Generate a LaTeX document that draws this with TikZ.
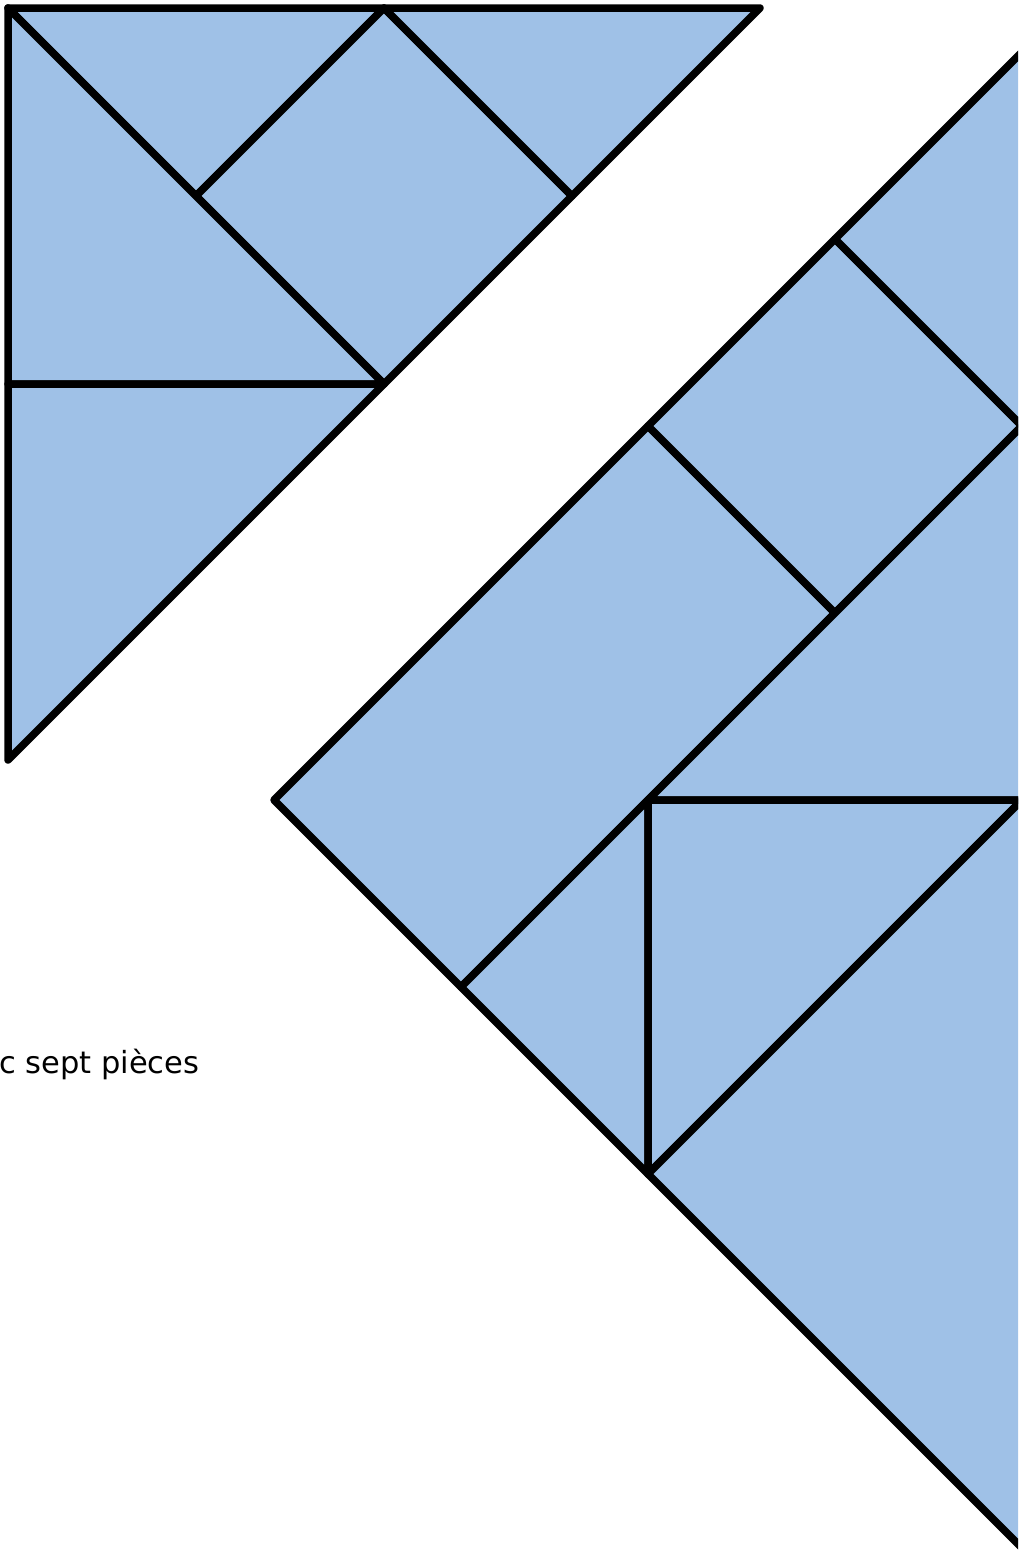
\documentclass[tikz,border=0pt]{standalone}
\usepackage{fontspec}
\setmainfont{DejaVu Sans}
\definecolor{tanblue}{RGB}{159,193,231}
\begin{document}
\begin{tikzpicture}[x=1pt,y=-1pt,
  piece/.style={fill=tanblue,draw=black,line width=7.5pt,line join=round,line cap=round}]
\useasboundingbox (0,0) rectangle (1018,1558);
\begin{scope}
\clip (0,0) rectangle (1018,1558);
% left figure
\coordinate (A) at (8,8);
\coordinate (B) at (384,8);
\coordinate (C) at (760,8);
\coordinate (D) at (384,384);
\coordinate (E) at (8,384);
\coordinate (F) at (8,760);
\coordinate (G) at (196,196);
\coordinate (H) at (572,196);
\filldraw[piece] (A) -- (B) -- (G) -- cycle;
\filldraw[piece] (B) -- (H) -- (D) -- (G) -- cycle;
\filldraw[piece] (B) -- (C) -- (H) -- cycle;
\filldraw[piece] (A) -- (D) -- (E) -- cycle;
\filldraw[piece] (E) -- (D) -- (F) -- cycle;
% right figure (u = 187)
\coordinate (L)   at (274,800);
\coordinate (P2a) at (648,426);
\coordinate (P3a) at (835,239);
\coordinate (P4a) at (1022,52);
\coordinate (P4ab) at (1209,239);
\coordinate (P3ab) at (1022,426);
\coordinate (P2ab) at (835,613);
\coordinate (Pab) at (648,800);
\coordinate (Pb)  at (461,987);
\coordinate (P2b) at (648,1174);
\coordinate (P2a2b) at (1022,800);
\coordinate (P4b) at (1022,1548);
\filldraw[piece] (L) -- (P2a) -- (P2ab) -- (Pab) -- (Pb) -- cycle;
\filldraw[piece] (P2a) -- (P3a) -- (P3ab) -- (P2ab) -- cycle;
\filldraw[piece] (P3a) -- (P4a) -- (P4ab) -- (P3ab) -- cycle;
\filldraw[piece] (Pab) -- (P2ab) -- (P3ab) -- (P2a2b) -- cycle;
\filldraw[piece] (Pb) -- (Pab) -- (P2b) -- cycle;
\filldraw[piece] (Pab) -- (P2a2b) -- (P2b) -- cycle;
\filldraw[piece] (P2b) -- (P2a2b) -- (P4b) -- cycle;
\end{scope}
\node[anchor=base west, inner sep=0pt, font=\fontsize{30.5}{36}\selectfont] (caption) at (-1,1073) {c sept pièces};
\end{tikzpicture}
\end{document}
